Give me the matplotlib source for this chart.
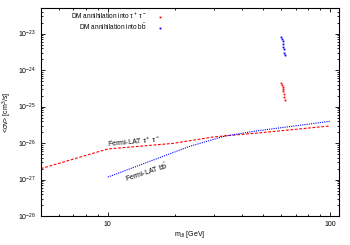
import numpy as np
import matplotlib
matplotlib.use("Agg")
import matplotlib.pyplot as plt
from matplotlib.ticker import LogLocator, NullFormatter, FixedLocator, FixedFormatter

plt.rcParams['font.family'] = ['Liberation Sans', 'DejaVu Sans']
plt.rcParams['mathtext.fontset'] = 'custom'
plt.rcParams['mathtext.rm'] = 'Liberation Sans'
plt.rcParams['mathtext.it'] = 'Liberation Sans'

# Fermi-LAT limits
fermi_tau_m = [5, 10, 19.6, 30, 50, 100]
fermi_tau_sv = [2.0e-27, 6.9e-27, 9.8e-27, 1.48e-26, 1.95e-26, 2.95e-26]
fermi_bb_m = [10, 23.3, 33.5, 46.6, 100]
fermi_bb_sv = [1.17e-27, 8.1e-27, 1.55e-26, 2.15e-26, 3.95e-26]

# DM annihilation points
dm_m = [60.4, 60.8, 61.2, 61.25, 61.57, 61.83, 62.15, 62.7]
dm_tau_sv = [4.55e-25, 3.96e-25, 3.44e-25, 3.01e-25, 2.62e-25, 2.17e-25, 1.85e-25, 1.53e-25]
dm_bb_sv = [8.07e-24, 6.98e-24, 6.15e-24, 5.09e-24, 4.35e-24, 3.71e-24, 2.94e-24, 2.54e-24]

x_ticks = [10, 100]
y_ticks = [1e-28, 1e-27, 1e-26, 1e-25, 1e-24, 1e-23]
y_ticklabels = [r'$10^{-28}$', r'$10^{-27}$', r'$10^{-26}$', r'$10^{-25}$', r'$10^{-24}$', r'$10^{-23}$']

fig = plt.figure(figsize=(3.5, 2.45), dpi=100)
ax = fig.add_axes([0.117, 0.118, 0.852, 0.849])

ax.plot(dm_m, dm_tau_sv, 's', color='red', ms=1.3, mew=0,
        label=r'DM annihilation into $\tau^+\ \tau^-$')
ax.plot(dm_m, dm_bb_sv, 's', color='blue', ms=1.3, mew=0,
        label=r'DM annihilation into b$\bar{\mathrm{b}}$')

ax.plot(fermi_tau_m, fermi_tau_sv, color='red', lw=0.8, dashes=(2.5, 1.5))
ax.plot(fermi_bb_m, fermi_bb_sv, color='blue', lw=0.8, dashes=(1, 1))

ax.set_xscale('log')
ax.set_yscale('log')
ax.set_xlim(5, 110)
ax.set_ylim(1e-28, 5e-23)

ax.xaxis.set_major_locator(FixedLocator(x_ticks))
ax.xaxis.set_major_formatter(FixedFormatter([str(v) for v in x_ticks]))
ax.xaxis.set_minor_locator(LogLocator(base=10, subs=np.arange(2, 10)))
ax.xaxis.set_minor_formatter(NullFormatter())
ax.yaxis.set_major_locator(FixedLocator(y_ticks))
ax.yaxis.set_major_formatter(FixedFormatter(y_ticklabels))
ax.yaxis.set_minor_locator(LogLocator(base=10, subs=np.arange(2, 10), numticks=20))
ax.yaxis.set_minor_formatter(NullFormatter())

ax.tick_params(which='both', direction='in', top=True, right=True, labelsize=5, width=0.6)
ax.tick_params(which='major', length=3)
ax.tick_params(which='minor', length=1.5)
for s in ax.spines.values():
    s.set_linewidth(0.8)

ax.set_xlabel(r'm$_{dl}$ [GeV]', fontsize=5, labelpad=1)
ax.set_ylabel(r'<$\sigma$v> [cm$^3$/s]', fontsize=5, labelpad=3)

ax.text(0.312, 0.36, r'Fermi-LAT $\tau^+\ \tau^-$', transform=ax.transAxes,
        fontsize=5, rotation=5, ha='center', va='center')
ax.text(0.356, 0.21, r'Fermi-LAT b$\bar{\mathrm{b}}$', transform=ax.transAxes,
        fontsize=5, rotation=18, ha='center', va='center')

ax.legend(loc='upper right', bbox_to_anchor=(0.43, 1.01), fontsize=4.7,
          frameon=False, markerfirst=False, handlelength=1.5,
          handletextpad=1.2, labelspacing=0.15, borderaxespad=0.3)

fig.savefig('out.png', dpi=100)
